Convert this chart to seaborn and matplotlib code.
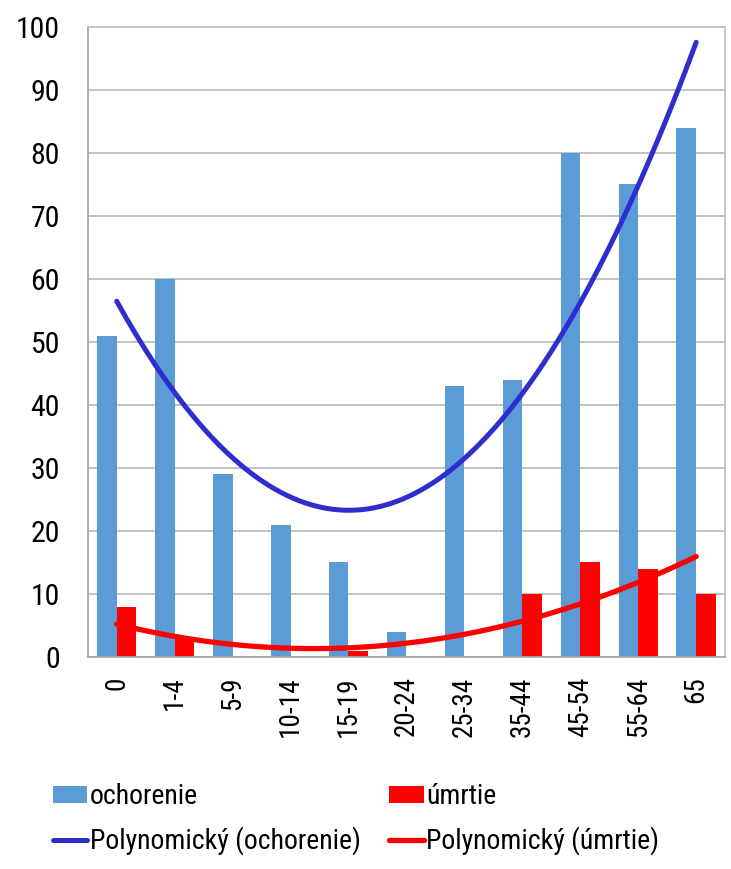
import matplotlib
matplotlib.use("Agg")
import matplotlib.pyplot as plt
from matplotlib import font_manager
from matplotlib.patches import Patch
from matplotlib.lines import Line2D
import numpy as np
import pandas as pd
import seaborn as sns

# Age groups and counts
age_groups = ["0", "1-4", "5-9", "10-14", "15-19", "20-24", "25-34", "35-44", "45-54", "55-64", "65"]
ochorenie = [51, 60, 29, 21, 15, 4, 43, 44, 80, 75, 84]
umrtie = [8, 3, 0, 0, 1, 0, 0, 10, 15, 14, 10]

series_names = ["ochorenie", "úmrtie"]
trend_names = ["Polynomický (ochorenie)", "Polynomický (úmrtie)"]

BLUE = "#5B9BD6"
RED = "#FF0000"
TREND_BLUE = "#2E2ECF"
TREND_RED = "#FF0000"

sns.set_theme(style="white")
installed = {f.name for f in font_manager.fontManager.ttflist}
narrow = [n for n in ["Liberation Sans Narrow", "Arial Narrow", "Roboto Condensed"] if n in installed]
plt.rcParams["font.family"] = narrow + ["Liberation Sans", "DejaVu Sans"]
plt.rcParams["text.color"] = "black"
plt.rcParams["xtick.color"] = "black"
plt.rcParams["ytick.color"] = "black"

df = pd.DataFrame({
    "vek": age_groups * 2,
    "pocet": ochorenie + umrtie,
    "serie": [series_names[0]] * len(age_groups) + [series_names[1]] * len(age_groups),
})

fig = plt.figure(figsize=(7.31, 8.69), dpi=100)
ax = fig.add_axes([0.120, 0.244, 0.872, 0.725])

sns.barplot(data=df, x="vek", y="pocet", hue="serie", order=age_groups,
            hue_order=series_names, palette=[BLUE, RED], width=0.68,
            saturation=1, legend=False, ax=ax, zorder=2, edgecolor="none")

# Second-order polynomial trend lines over the category positions
xpos = np.arange(len(age_groups))
sns.regplot(x=xpos, y=np.array(ochorenie, float), order=2, ci=None, scatter=False,
            truncate=True, ax=ax,
            line_kws=dict(color=TREND_BLUE, lw=3.6, solid_capstyle="round", zorder=4))
sns.regplot(x=xpos, y=np.array(umrtie, float), order=2, ci=None, scatter=False,
            truncate=True, ax=ax,
            line_kws=dict(color=TREND_RED, lw=3.8, solid_capstyle="round", zorder=4))

ax.set_xlim(-0.5, len(age_groups) - 0.5)
ax.set_ylim(0, 100)
ax.set_yticks(range(0, 101, 10))
ax.set_xticks(xpos)
ax.set_xticklabels(age_groups, rotation=90, fontsize=19.5)
ax.tick_params(axis="y", labelsize=21.5, length=0, pad=20, colors="black")
ax.tick_params(axis="x", length=0, pad=14, colors="black")
ax.set_xlabel("")
ax.set_ylabel("")

ax.yaxis.grid(True, color="#BDBDBD", lw=1.3, zorder=0)
ax.set_axisbelow(True)
for side in ["left", "right", "top", "bottom"]:
    ax.spines[side].set_visible(True)
    ax.spines[side].set_color("#C4C4C4")
    ax.spines[side].set_linewidth(1.3)
ax.spines["left"].set_color("#A8A8A8")
ax.spines["bottom"].set_color("#A8A8A8")

handles = [
    Patch(facecolor=BLUE, edgecolor="none"),
    Line2D([0], [0], color=TREND_BLUE, lw=3.6, solid_capstyle="round"),
    Patch(facecolor=RED, edgecolor="none"),
    Line2D([0], [0], color=TREND_RED, lw=3.8, solid_capstyle="round"),
]
labels = [series_names[0], trend_names[0], series_names[1], trend_names[1]]
fig.legend(handles, labels, loc="upper left", bbox_to_anchor=(0.072, 0.099),
           ncol=2, frameon=False, fontsize=20, handlelength=1.25,
           handleheight=0.55, handletextpad=0.1, columnspacing=1.0,
           labelspacing=0.6, borderpad=0, borderaxespad=0)

fig.savefig("out.png", dpi=100)
